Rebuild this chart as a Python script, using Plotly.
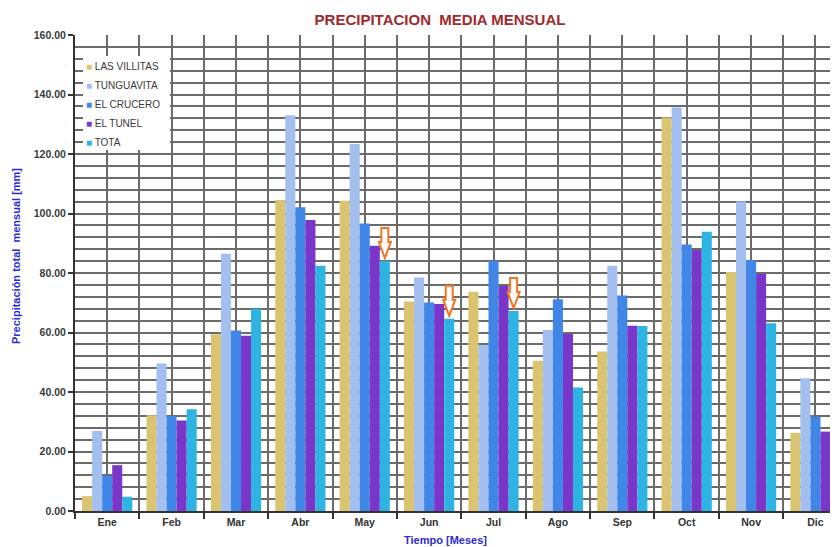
import plotly.graph_objects as go

months = ["Ene", "Feb", "Mar", "Abr", "May", "Jun", "Jul", "Ago", "Sep", "Oct", "Nov", "Dic"]

las_villitas = [5.0, 32.2, 59.4, 104.5, 104.3, 70.4, 73.7, 50.5, 53.6, 132.3, 80.3, 26.3]
tunguavita = [26.9, 49.6, 86.5, 133.0, 123.4, 78.5, 55.8, 60.8, 82.4, 135.6, 104.0, 44.6]
el_crucero = [11.9, 31.9, 60.7, 102.1, 96.6, 70.1, 84.1, 71.2, 72.4, 89.6, 84.4, 31.7]
el_tunel = [15.4, 30.4, 58.9, 97.8, 89.2, 69.6, 75.6, 59.5, 62.3, 87.7, 79.7, 26.7]
tota = [4.8, 34.2, 68.0, 82.4, 84.0, 64.6, 67.2, 41.5, 62.2, 93.9, 63.1, 30.6]

series_names = ["LAS VILLITAS", "TUNGUAVITA", "EL CRUCERO", "EL TUNEL", "TOTA"]
series_values = [las_villitas, tunguavita, el_crucero, el_tunel, tota]
series_colors = ["#DBC470", "#A2BFF0", "#3F86E6", "#7A36C8", "#2DB4E3"]

y_ticks = [0, 20, 40, 60, 80, 100, 120, 140, 160]
arrow_months = ["May", "Jun", "Jul"]  # arrows pointing at the TOTA bars

FONT = "Liberation Sans, Arial, sans-serif"
x_idx = list(range(len(months)))
BARGAP = 0.22
n_series = len(series_names)

# the page body adds an 8px offset; the figure is sized to fill the rest of the window
W, H = 830, 539
ML, MT, MB = 67, 27, 36
PW, PH = W - ML, H - MT - MB

fig = go.Figure()
for name, vals, col in zip(series_names, series_values, series_colors):
    fig.add_trace(go.Bar(
        x=x_idx, y=vals, name=name, marker=dict(color=col, line=dict(width=0)),
        legendgroup=name, showlegend=False,
    ))
# legend entries (small square swatches)
for name, col in zip(series_names, series_colors):
    fig.add_trace(go.Scatter(
        x=[None], y=[None], mode="markers", marker=dict(opacity=0, size=1),
        name=f"<span style='color:{col}'>■</span> {name}", legendgroup=name, showlegend=True,
    ))

grid_col = "#6b6b6b"
fig.update_layout(
    width=W, height=H,
    margin=dict(l=ML, r=0, t=MT, b=MB, autoexpand=False),
    paper_bgcolor="white", plot_bgcolor="white",
    barmode="group", bargap=BARGAP, bargroupgap=0,
    font=dict(family=FONT, color="#333333"),
    showlegend=True,
    legend=dict(
        x=-0.038, xanchor="left", y=0.965, yanchor="top",
        bgcolor="rgba(0,0,0,0)", font=dict(size=10, color="#3a3a3a", family=FONT),
        tracegroupgap=0,
    ),
    xaxis=dict(
        range=[-0.5, 11.35], tickmode="array", tickvals=x_idx, ticktext=months,
        showgrid=True, gridcolor=grid_col, gridwidth=2,
        ticks="", tickfont=dict(size=10.5, family=FONT, color="#333333", weight="bold"),
        showline=True, linecolor="#333333", linewidth=2,
        minor=dict(tickmode="linear", tick0=0.5, dtick=1, showgrid=True,
                   gridcolor=grid_col, gridwidth=2, ticks="outside", ticklen=6,
                   tickcolor="#333333", tickwidth=1.5),
        zeroline=False, fixedrange=True,
    ),
    yaxis=dict(
        range=[0, 160], tickmode="array", tickvals=y_ticks, tickformat=".2f",
        showgrid=True, gridcolor=grid_col, gridwidth=2,
        ticks="outside", ticklen=5, tickcolor="#333333", tickwidth=1.5,
        tickfont=dict(size=10.5, family=FONT, color="#3a3a3a", weight="bold"),
        showline=True, linecolor="#333333", linewidth=2,
        minor=dict(tickmode="linear", tick0=0, dtick=4, showgrid=True,
                   gridcolor=grid_col, gridwidth=2),
        zeroline=False, fixedrange=True,
    ),
    title=dict(text="PRECIPITACION  MEDIA MENSUAL", x=432 / W, xanchor="center",
               y=1 - 12 / H, yanchor="middle",
               font=dict(size=15, color="#9E2A2E", family=FONT, weight="bold")),
)

# axis titles placed as annotations
fig.add_annotation(
    text="Precipitación total  mensual [mm]", textangle=-90,
    xref="paper", yref="paper", x=(8 - ML) / PW, y=(PH - 221) / PH,
    xanchor="center", yanchor="middle", showarrow=False,
    font=dict(size=11, color="#2B2BD6", family=FONT, weight="bold"),
)
fig.add_annotation(
    text="Tiempo [Meses]",
    xref="paper", yref="paper", x=(437 - ML) / PW, y=0, yshift=-21,
    xanchor="center", yanchor="top", showarrow=False,
    font=dict(size=11, color="#2B2BD6", family=FONT, weight="bold"),
)

# white legend box covering the grid
fig.add_shape(type="rect", xref="paper", yref="paper",
              x0=8 / PW, x1=95 / PW,
              y0=(PH - 115) / PH, y1=(PH - 21) / PH,
              fillcolor="white", line=dict(width=0), layer="above")

# hollow orange arrows above TOTA bars
bar_w = (1 - BARGAP) / n_series
tota_offset = -(1 - BARGAP) / 2 + bar_w * (n_series - 0.5)
arrow_path = "M0,3 L-6,19 L-3.5,19 L-3.5,33 L3.5,33 L3.5,19 L6,19 Z"
for m in arrow_months:
    i = months.index(m)
    fig.add_shape(type="path", xref="x", yref="y",
                  xsizemode="pixel", ysizemode="pixel",
                  xanchor=i + tota_offset, yanchor=tota[i],
                  path=arrow_path, fillcolor="white",
                  line=dict(color="#F47420", width=2), layer="above")

fig.write_html("out.html")
